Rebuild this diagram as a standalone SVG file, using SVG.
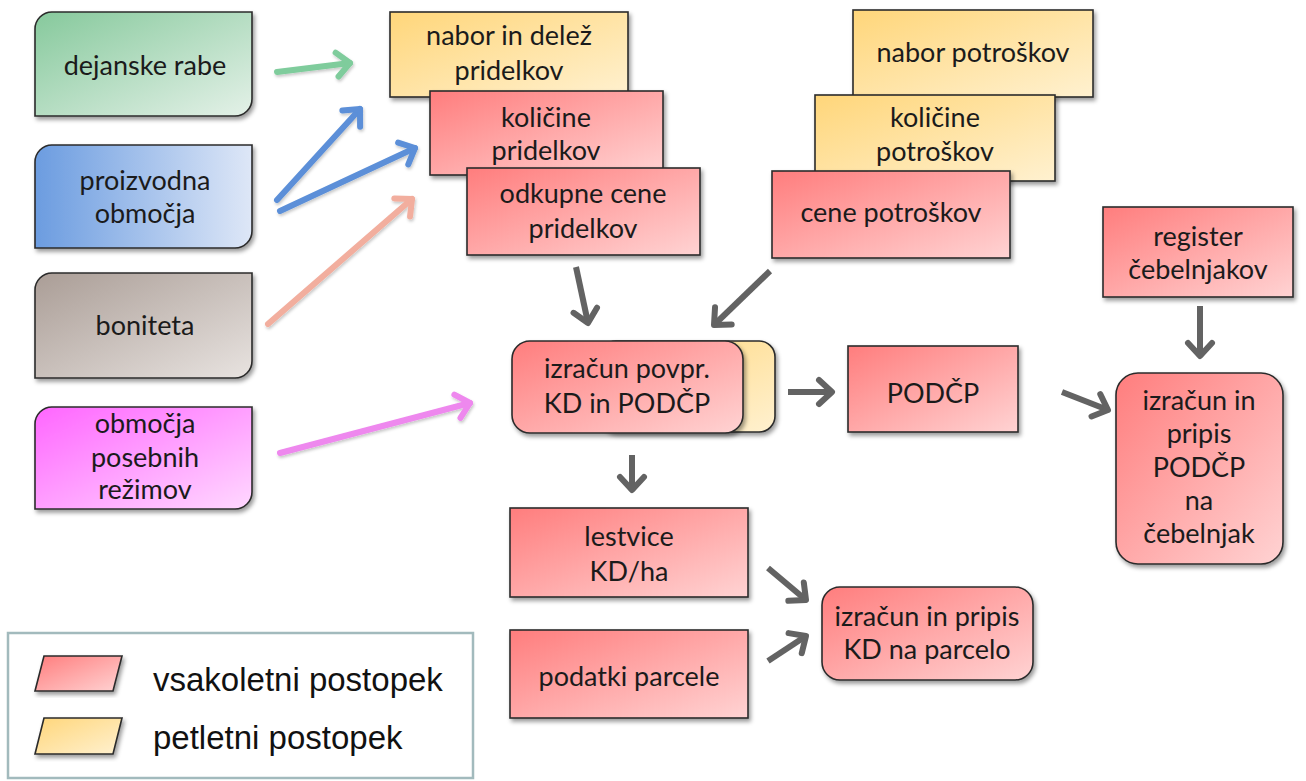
<svg xmlns="http://www.w3.org/2000/svg" width="1306" height="781" viewBox="0 0 1306 781">
<defs>
  <linearGradient id="gRed" x1="0" y1="0" x2="1" y2="1"><stop offset="0" stop-color="#FF7D7D"/><stop offset="1" stop-color="#FFD3D3"/></linearGradient>
  <linearGradient id="gYel" x1="0" y1="0" x2="1" y2="1"><stop offset="0" stop-color="#FFD67A"/><stop offset="1" stop-color="#FFF1D0"/></linearGradient>
  <linearGradient id="gGrn" x1="0" y1="0" x2="1" y2="1"><stop offset="0" stop-color="#86C99C"/><stop offset="1" stop-color="#E4F1E8"/></linearGradient>
  <linearGradient id="gBlu" x1="0" y1="0" x2="1" y2="0"><stop offset="0" stop-color="#6B9CE0"/><stop offset="1" stop-color="#DEE7F7"/></linearGradient>
  <linearGradient id="gBrn" x1="0" y1="0" x2="1" y2="1"><stop offset="0" stop-color="#AA9D96"/><stop offset="1" stop-color="#E8E3E0"/></linearGradient>
  <linearGradient id="gMag" x1="0" y1="0" x2="1" y2="1"><stop offset="0" stop-color="#FF66FF"/><stop offset="1" stop-color="#FFD8FF"/></linearGradient>
  <filter id="sh" x="-10%" y="-10%" width="125%" height="130%">
    <feDropShadow dx="2" dy="3" stdDeviation="2" flood-color="#000" flood-opacity="0.4"/>
  </filter>
  <filter id="ash" filterUnits="userSpaceOnUse" x="0" y="0" width="1306" height="781">
    <feDropShadow dx="1" dy="2" stdDeviation="1.5" flood-color="#000" flood-opacity="0.22"/>
  </filter>
  <marker id="mGrey" markerUnits="userSpaceOnUse" markerWidth="40" markerHeight="40" viewBox="-20 -20 40 40" refX="0" refY="0" orient="auto">
    <path d="M-13,-12 L0,0 L-13,12" fill="none" stroke="#636363" stroke-width="6" stroke-linecap="round" stroke-linejoin="round"/>
  </marker>
  <marker id="mGrn" markerUnits="userSpaceOnUse" markerWidth="40" markerHeight="40" viewBox="-20 -20 40 40" refX="0" refY="0" orient="auto">
    <path d="M-13,-12 L0,0 L-13,12" fill="none" stroke="#7FCC9C" stroke-width="6" stroke-linecap="round" stroke-linejoin="round"/>
  </marker>
  <marker id="mBlu" markerUnits="userSpaceOnUse" markerWidth="40" markerHeight="40" viewBox="-20 -20 40 40" refX="0" refY="0" orient="auto">
    <path d="M-13,-12 L0,0 L-13,12" fill="none" stroke="#5B8FD8" stroke-width="6" stroke-linecap="round" stroke-linejoin="round"/>
  </marker>
  <marker id="mSal" markerUnits="userSpaceOnUse" markerWidth="40" markerHeight="40" viewBox="-20 -20 40 40" refX="0" refY="0" orient="auto">
    <path d="M-13,-12 L0,0 L-13,12" fill="none" stroke="#F2AE9E" stroke-width="6" stroke-linecap="round" stroke-linejoin="round"/>
  </marker>
  <marker id="mMag" markerUnits="userSpaceOnUse" markerWidth="40" markerHeight="40" viewBox="-20 -20 40 40" refX="0" refY="0" orient="auto">
    <path d="M-13,-12 L0,0 L-13,12" fill="none" stroke="#EE88EE" stroke-width="6" stroke-linecap="round" stroke-linejoin="round"/>
  </marker>
</defs>
<style>
  .box { stroke: #2b2b2b; stroke-width: 1.6; filter: url(#sh); }
  .red { fill: url(#gRed); }
  .yel { fill: url(#gYel); }
  .t { font-family: Lato, "Open Sans", "Liberation Sans", sans-serif; font-size: 27px; fill: #1b1b1b; text-anchor: middle; }
  .lg { font-family: "Liberation Sans", Arial, sans-serif; font-size: 33px; fill: #111; }
  .ag { fill: none; stroke: #636363; stroke-width: 6; stroke-linecap: butt; marker-end: url(#mGrey); }
  .ac { fill: none; stroke-width: 6; stroke-linecap: round; filter: url(#ash); }
</style>
<rect width="1306" height="781" fill="#ffffff"/>

<g id="n-dejanske">
  <path class="box" fill="url(#gGrn)" d="M35,29 A17,17 0 0 1 52,12 L252,12 L252,99 A17,17 0 0 1 235,116 L35,116 Z"/>
  <text class="t" x="145" y="75">dejanske rabe</text>
</g>
<g id="n-proizvodna">
  <path class="box" fill="url(#gBlu)" d="M35,162 A17,17 0 0 1 52,145 L252,145 L252,231 A17,17 0 0 1 235,248 L35,248 Z"/>
  <text class="t" x="145" y="190">proizvodna</text>
  <text class="t" x="145" y="223">območja</text>
</g>
<g id="n-boniteta">
  <path class="box" fill="url(#gBrn)" d="M35,290 A17,17 0 0 1 52,273 L252,273 L252,361 A17,17 0 0 1 235,378 L35,378 Z"/>
  <text class="t" x="145" y="335">boniteta</text>
</g>
<g id="n-rezimi">
  <path class="box" fill="url(#gMag)" d="M35,424 A17,17 0 0 1 52,407 L252,407 L252,492 A17,17 0 0 1 235,509 L35,509 Z"/>
  <text class="t" x="145" y="433">območja</text>
  <text class="t" x="145" y="467">posebnih</text>
  <text class="t" x="145" y="499">režimov</text>
</g>

<g id="n-nabor-pridelkov">
  <rect class="box yel" x="390" y="12" width="238" height="85"/>
  <text class="t" x="509" y="45">nabor in delež</text>
  <text class="t" x="509" y="80">pridelkov</text>
</g>
<g id="n-kolicine-pridelkov">
  <rect class="box red" x="430" y="91" width="233" height="84"/>
  <text class="t" x="546" y="127">količine</text>
  <text class="t" x="546" y="160">pridelkov</text>
</g>
<g id="n-odkupne-cene">
  <rect class="box red" x="467" y="168" width="233" height="87"/>
  <text class="t" x="583" y="203">odkupne cene</text>
  <text class="t" x="583" y="238">pridelkov</text>
</g>

<g id="n-nabor-potroskov">
  <rect class="box yel" x="853" y="10" width="240" height="87"/>
  <text class="t" x="973" y="62">nabor potroškov</text>
</g>
<g id="n-kolicine-potroskov">
  <rect class="box yel" x="815" y="95" width="240" height="86"/>
  <text class="t" x="935" y="127">količine</text>
  <text class="t" x="935" y="161">potroškov</text>
</g>
<g id="n-cene-potroskov">
  <rect class="box red" x="772" y="171" width="238" height="87"/>
  <text class="t" x="891" y="222">cene potroškov</text>
</g>

<g id="n-register">
  <rect class="box red" x="1103" y="207" width="190" height="90"/>
  <text class="t" x="1198" y="246">register</text>
  <text class="t" x="1198" y="279">čebelnjakov</text>
</g>

<g id="n-izracun-povpr">
  <rect class="box yel" x="600" y="341" width="175" height="91" rx="16"/>
  <rect class="box red" x="512" y="341" width="231" height="92" rx="18"/>
  <text class="t" x="627" y="378">izračun povpr.</text>
  <text class="t" x="627" y="413">KD in PODČP</text>
</g>

<g id="n-podcp">
  <rect class="box red" x="848" y="346" width="170" height="86"/>
  <text class="t" x="933" y="403">PODČP</text>
</g>

<g id="n-izracun-cebelnjak">
  <rect class="box red" x="1116" y="373" width="167" height="191" rx="22"/>
  <text class="t" x="1199" y="410">izračun in</text>
  <text class="t" x="1199" y="443">pripis</text>
  <text class="t" x="1199" y="477">PODČP</text>
  <text class="t" x="1199" y="510">na</text>
  <text class="t" x="1199" y="543">čebelnjak</text>
</g>

<g id="n-lestvice">
  <rect class="box red" x="510" y="508" width="238" height="89"/>
  <text class="t" x="629" y="546">lestvice</text>
  <text class="t" x="629" y="581">KD/ha</text>
</g>
<g id="n-podatki">
  <rect class="box red" x="510" y="630" width="238" height="88"/>
  <text class="t" x="629" y="686">podatki parcele</text>
</g>
<g id="n-izracun-parcela">
  <rect class="box red" x="822" y="587" width="211" height="93" rx="18"/>
  <text class="t" x="927" y="626">izračun in pripis</text>
  <text class="t" x="927" y="659">KD na parcelo</text>
</g>

<g id="connectors">
  <line class="ac" x1="277" y1="72" x2="350" y2="63" stroke="#7FCC9C" marker-end="url(#mGrn)"/>
  <line class="ac" x1="277" y1="200" x2="360" y2="109" stroke="#5B8FD8" marker-end="url(#mBlu)"/>
  <line class="ac" x1="280" y1="211" x2="415" y2="148" stroke="#5B8FD8" marker-end="url(#mBlu)"/>
  <line class="ac" x1="268" y1="324" x2="412" y2="199" stroke="#F2AE9E" marker-end="url(#mSal)"/>
  <line class="ac" x1="280" y1="453" x2="470" y2="403" stroke="#EE88EE" marker-end="url(#mMag)"/>

  <line class="ag" x1="576" y1="267" x2="588" y2="323"/>
  <line class="ag" x1="770" y1="271" x2="714" y2="325"/>
  <line class="ag" x1="788" y1="392" x2="832" y2="392"/>
  <line class="ag" x1="1062" y1="392" x2="1108" y2="410"/>
  <line class="ag" x1="1200" y1="306" x2="1200" y2="356"/>
  <line class="ag" x1="632" y1="455" x2="632" y2="490"/>
  <line class="ag" x1="768" y1="568" x2="806" y2="600"/>
  <line class="ag" x1="768" y1="661" x2="806" y2="636"/>
</g>

<g id="legend">
  <rect x="8" y="633" width="465" height="145" fill="#ffffff" stroke="#A2BABD" stroke-width="2.5"/>
  <polygon class="box red" points="44,656 122,656 113,691 35,691"/>
  <text class="lg" x="153" y="691">vsakoletni postopek</text>
  <polygon class="box yel" points="44,718 122,718 113,754 35,754"/>
  <text class="lg" x="153" y="749">petletni postopek</text>
</g>
</svg>
